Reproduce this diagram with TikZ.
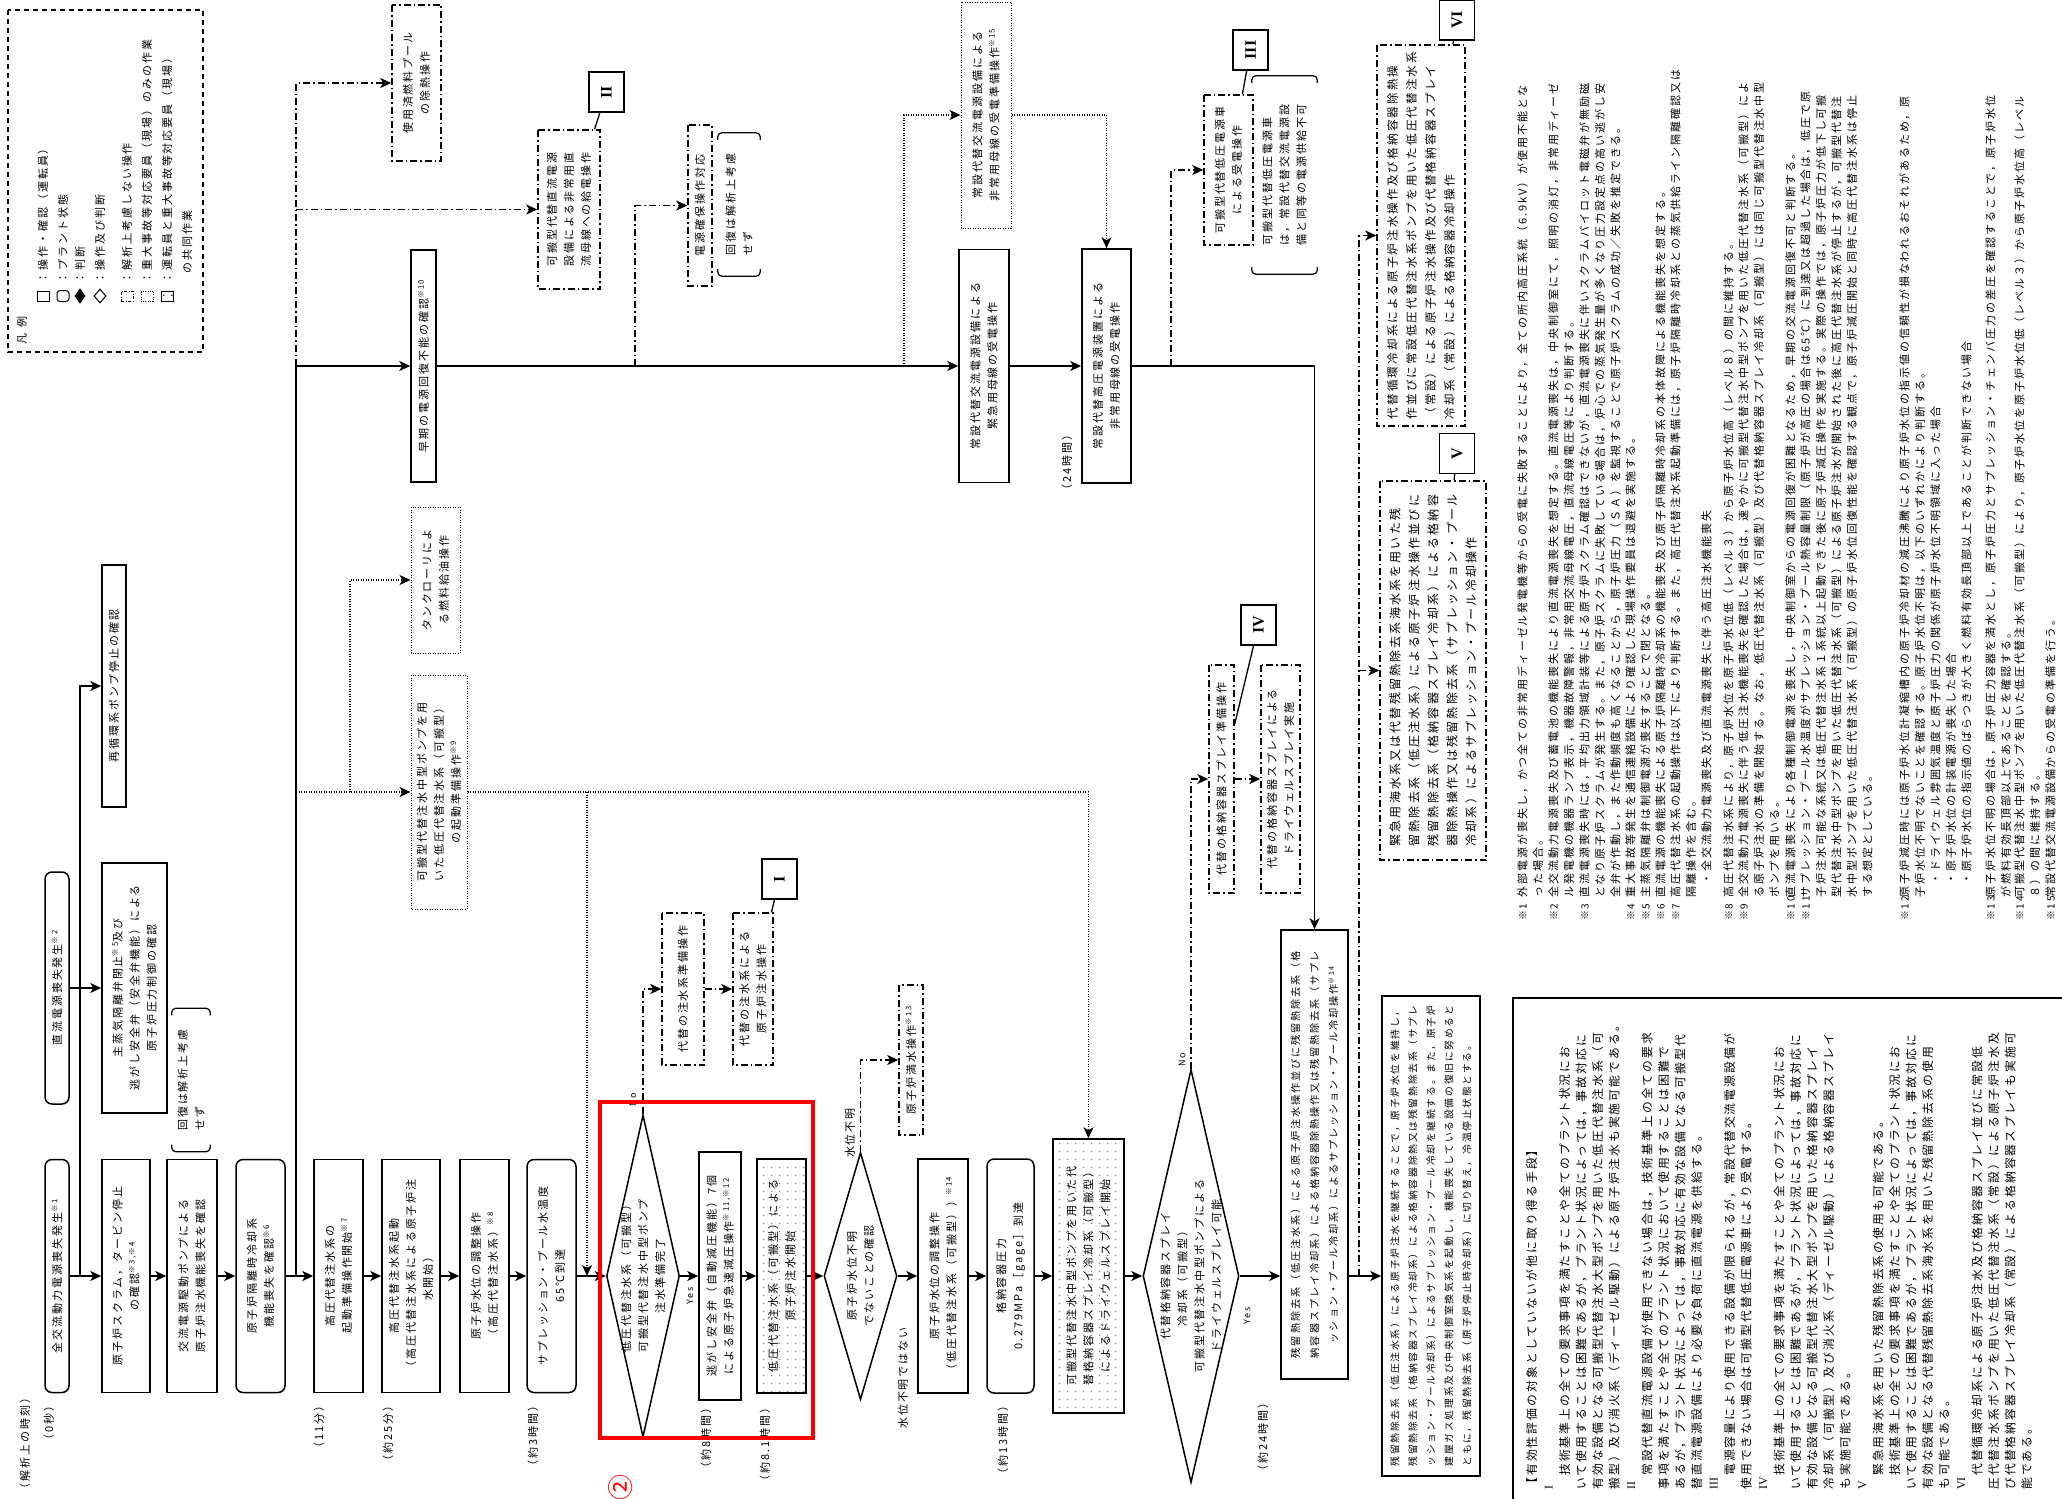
\documentclass[tikz,border=0pt]{standalone}
\usepackage{fontspec}
\setmainfont{Noto Sans CJK JP}
\newfontfamily\jpfont{Noto Sans CJK JP}[LetterSpace=18]
\newfontfamily\numfamily{Liberation Serif}
\usetikzlibrary{arrows.meta}
\usetikzlibrary{shapes.geometric}
\usetikzlibrary{patterns}

\pgfdeclarepatternformonly{sparsedots}{\pgfqpoint{0pt}{0pt}}{\pgfqpoint{8pt}{8pt}}{\pgfqpoint{8pt}{8pt}}{%
  \pgfpathcircle{\pgfqpoint{4pt}{4pt}}{0.8pt}\pgfusepath{fill}}

\newcommand{\flowfont}{\fontsize{11}{17}\jpfont}
\newcommand{\notefont}{\fontsize{11}{15.5}\jpfont}
\newcommand{\markfont}{\fontsize{10}{15.5}\selectfont}
\newcommand{\panelfont}{\fontsize{11.8}{16.5}\jpfont}
\newcommand{\numfont}{\fontsize{16}{16}\numfamily\bfseries}
\newcommand{\nt}[1]{\textsuperscript{※#1}}
\newcommand{\brackets}[1]{%
  \draw[line width=1.2pt, rounded corners=4pt] ([yshift=-7pt]#1.north east) -- (#1.north east) -- (#1.south east) -- ([yshift=-7pt]#1.south east);
  \draw[line width=1.2pt, rounded corners=4pt] ([yshift=7pt]#1.north west) -- (#1.north west) -- (#1.south west) -- ([yshift=7pt]#1.south west);}

\tikzset{
  flowbox/.style={draw, rectangle, rotate=90, line width=1.5pt, inner sep=0pt, align=center, font=\flowfont},
  statebox/.style={flowbox, rounded corners=7pt},
  skipbox/.style={flowbox, dash pattern=on 7pt off 3pt on 1.5pt off 3pt},
  fieldbox/.style={flowbox, line width=1pt, dash pattern=on 1pt off 1.5pt},
  jointbox/.style={flowbox, pattern=sparsedots, pattern color=gray},
  judgebox/.style={draw, diamond, rotate=90, line width=1.5pt, inner sep=0pt},
  words/.style={rotate=90, align=center, inner sep=0pt, font=\flowfont},
  tag/.style={rotate=90, inner sep=0pt, font=\flowfont},
  bracketed/.style={rotate=90, inner sep=0pt, align=left, font=\flowfont},
  notecell/.style={rotate=90, anchor=north west, inner sep=0pt, font=\notefont},
  numbox/.style={draw, rectangle, rotate=90, line width=1.4pt, minimum width=40pt, minimum height=35pt, inner sep=0pt, font=\numfont},
  arrowline/.style={line width=1.8pt, -{Stealth[length=11pt,width=10pt,inset=3pt]}},
  skipline/.style={arrowline, dash pattern=on 7pt off 3pt on 1.5pt off 3pt},
  fieldline/.style={line width=1.1pt, dash pattern=on 1pt off 1.5pt, -{Stealth[length=11pt,width=10pt,inset=3pt]}},
}

\begin{document}
\begin{tikzpicture}[x=1pt, y=-1pt]
\useasboundingbox (0,0) rectangle (2062,1499);

% legend
\draw[line width=1.3pt, dash pattern=on 5pt off 4pt] (8,10) rectangle (203,352);
\node[tag] (lgtitle) at (22,330) {凡\hspace{6pt}例};
\node[draw, line width=1pt, minimum width=12pt, minimum height=10pt, inner sep=0pt] (lgsym1) at (43,296) {};
\node[draw, line width=1pt, rounded corners=3pt, minimum width=12pt, minimum height=11pt, inner sep=0pt] (lgsym2) at (63,296) {};
\node[draw, fill=black, diamond, line width=1pt, minimum width=10pt, minimum height=14pt, inner sep=0pt] (lgsym3) at (80,296) {};
\node[draw, diamond, line width=1pt, minimum width=12pt, minimum height=14pt, inner sep=0pt] (lgsym4) at (100,296) {};
\node[draw, line width=1pt, dash pattern=on 3pt off 1.5pt on 1pt off 1.5pt, minimum width=12pt, minimum height=10pt, inner sep=0pt] (lgsym5) at (127,296) {};
\node[draw, line width=0.8pt, dash pattern=on 1pt off 1.2pt, minimum width=12pt, minimum height=10pt, inner sep=0pt] (lgsym6) at (147,296) {};
\node[draw, line width=1pt, pattern=sparsedots, minimum width=12pt, minimum height=10pt, inner sep=0pt] (lgsym7) at (167,296) {};
\node[tag, anchor=west] (lgtext1) at (43,284) {：操作・確認（運転員）};
\node[tag, anchor=west] (lgtext2) at (63,284) {：プラント状態};
\node[tag, anchor=west] (lgtext3) at (80,284) {：判断};
\node[tag, anchor=west] (lgtext4) at (100,284) {：操作及び判断};
\node[tag, anchor=west] (lgtext5) at (127,284) {：解析上考慮しない操作};
\node[tag, anchor=west] (lgtext6) at (147,284) {：重大事故等対応要員（現場）のみの作業};
\node[tag, anchor=west, align=left, font={\fontsize{11}{20}\jpfont}] (lgtext7) at (177,284) {：運転員と重大事故等対応要員（現場）\\\hspace{10pt}の共同作業};

% main sequence
\node[statebox, minimum width=233pt, minimum height=24pt] (allac) at (57,1276) {全交流動力電源喪失発生\nt{1}};
\node[flowbox, minimum width=233pt, minimum height=48pt] (scram) at (126,1276) {原子炉スクラム，タービン停止\\の確認\nt{3,※4}};
\node[flowbox, minimum width=233pt, minimum height=50pt] (acpump) at (192,1276) {交流電源駆動ポンプによる\\原子炉注水機能喪失を確認};
\node[statebox, minimum width=233pt, minimum height=49pt] (ricloss) at (260.5,1276) {原子炉隔離時冷却系\\機能喪失を確認\nt{6}};
\node[flowbox, minimum width=233pt, minimum height=49pt] (hpprep) at (338.5,1276) {高圧代替注水系の\\起動準備操作開始\nt{7}};
\node[flowbox, minimum width=233pt, minimum height=58pt] (hpstart) at (411,1276) {高圧代替注水系起動\\（高圧代替注水系による原子炉注\\水開始）};
\node[flowbox, minimum width=233pt, minimum height=49pt] (hplevel) at (484.5,1276) {原子炉水位の調整操作\\（高圧代替注水系）\nt{8}};
\node[statebox, minimum width=233pt, minimum height=49pt] (sp65) at (551.5,1276) {サプレッション・プール水温度\\65℃到達};
\node[judgebox, minimum width=322pt, minimum height=73pt] (lpready) at (643,1276) {};
\node[words] (lpreadytext) at (lpready) {低圧代替注水系（可搬型）\\可搬型代替注水中型ポンプ\\注水準備完了};
\node[flowbox, minimum width=248pt, minimum height=42pt] (srv) at (720,1276) {逃がし安全弁（自動減圧機能）7個\\による原子炉急速減圧操作\nt{11,※12}};
\node[jointbox, minimum width=234pt, minimum height=49pt] (lpinj) at (781.5,1276) {低圧代替注水系（可搬型）による\\原子炉注水開始};
\node[judgebox, minimum width=247pt, minimum height=73pt] (lvlchk) at (860.5,1276) {};
\node[words] (lvlchktext) at (lvlchk) {原子炉水位不明\\でないことの確認};
\node[flowbox, minimum width=234pt, minimum height=50pt] (lplevel) at (943,1276) {原子炉水位の調整操作\\（低圧代替注水系（可搬型））\nt{14}};
\node[statebox, minimum width=234pt, minimum height=47pt] (pcv) at (1010.5,1276) {格納容器圧力\\0.279MPa［gage］到達};
\node[jointbox, minimum width=274pt, minimum height=71pt] (dwspray) at (1088.5,1276) {可搬型代替注水中型ポンプを用いた代\\替格納容器スプレイ冷却系（可搬型）\\によるドライウェルスプレイ開始};
\node[judgebox, minimum width=413pt, minimum height=96pt] (spraychk) at (1191,1276) {};
\node[words] (spraychktext) at (spraychk) {代替格納容器スプレイ\\冷却系（可搬型）\\可搬型代替注水中型ポンプによる\\ドライウェルスプレイ可能};
\node[flowbox, minimum width=449pt, minimum height=67pt, font={\fontsize{10.2}{19}\jpfont}] (rhrop) at (1314.5,1154.5) {残留熱除去系（低圧注水系）による原子炉注水操作並びに残留熱除去系（格\\納容器スプレイ冷却系）による格納容器除熱操作又は残留熱除去系（サプレ\\ッション・プール冷却系）によるサプレッション・プール冷却操作\nt{14}};
\node[flowbox, minimum width=480pt, minimum height=98pt, align=left, font={\fontsize{9.8}{18}\jpfont}] (rhrkeep) at (1431,1236) {残留熱除去系（低圧注水系）による原子炉注水を継続することで，原子炉水位を維持し，\\残留熱除去系（格納容器スプレイ冷却系）による格納容器除熱又は残留熱除去系（サプレ\\ッション・プール冷却系）によるサプレッション・プール冷却を継続する。また，原子炉\\建屋ガス処理系及び中央制御室換気系を起動し，機能喪失している設備の復旧に努めると\\ともに，残留熱除去系（原子炉停止時冷却系）に切り替え，冷温停止状態とする。};

% left branch
\node[statebox, minimum width=232pt, minimum height=24pt] (dcloss) at (57,988) {直流電源喪失発生\nt{2}};
\node[flowbox, minimum width=242pt, minimum height=24pt] (recirc) at (114,686) {再循環系ポンプ停止の確認};
\node[flowbox, minimum width=250pt, minimum height=65pt] (msiv) at (134.5,988) {主蒸気隔離弁閉止\nt{5}及び\\逃がし安全弁（安全弁機能）による\\原子炉圧力制御の確認};
\node[bracketed, minimum width=143pt, minimum height=38pt] (norecover) at (191,1080) {回復は解析上考慮\\せず};

% upper branches
\node[skipbox, minimum width=156pt, minimum height=49pt] (sfpcool) at (416.5,83) {使用済燃料プール\\の除熱操作};
\node[skipbox, minimum width=159pt, minimum height=62pt] (dcsupply) at (569,209.5) {可搬型代替直流電源\\設備による非常用直\\流母線への給電操作};
\node[numbox] (numII) at (606.5,92) {II};
\node[flowbox, minimum width=232pt, minimum height=25pt] (early) at (423.5,366) {早期の電源回復不能の確認\nt{10}};
\node[skipbox, minimum width=161pt, minimum height=24pt] (pwrwork) at (700,205.5) {電源確保操作対応};
\node[bracketed, minimum width=143pt, minimum height=42pt] (norecover2) at (739,204.5) {回復は解析上考慮\\せず};
\node[fieldbox, minimum width=146pt, minimum height=49pt] (lorry) at (435.5,580) {タンクローリによ\\る燃料給油操作};
\node[fieldbox, minimum width=234pt, minimum height=56pt] (lpprep) at (439,792) {可搬型代替注水中型ポンプを用\\いた低圧代替注水系（可搬型）\\の起動準備操作\nt{9}};
\node[fieldbox, minimum width=226pt, minimum height=50pt] (acprep) at (986,115) {常設代替交流電源設備による\\非常用母線の受電準備操作\nt{15}};
\node[flowbox, minimum width=233pt, minimum height=50pt] (acbus) at (984,366) {常設代替交流電源設備による\\緊急用母線の受電操作};
\node[flowbox, minimum width=234pt, minimum height=49pt] (hvbus) at (1106.5,366) {常設代替高圧電源装置による\\非常用母線の受電操作};
\node[skipbox, minimum width=150pt, minimum height=49pt] (lvcar) at (1228.5,170) {可搬型代替低圧電源車\\による受電操作};
\node[numbox] (numIII) at (1250.5,50) {III};
\node[bracketed, minimum width=198pt, minimum height=65pt] (nolvcar) at (1284.5,175) {可搬型代替低圧電源車\\は，常設代替交流電源設\\備と同等の電源供給不可};

% side operations
\node[skipbox, minimum width=152pt, minimum height=42pt] (altprep) at (683,989) {代替の注水系準備操作};
\node[skipbox, minimum width=152pt, minimum height=40pt] (altinj) at (753,989) {代替の注水系による\\原子炉注水操作};
\node[numbox] (numI) at (779.5,879) {I};
\node[skipbox, minimum width=150pt, minimum height=24pt] (fillup) at (911,1060) {原子炉満水操作\nt{13}};
\node[skipbox, minimum width=228pt, minimum height=25pt] (csprep) at (1221.5,779) {代替の格納容器スプレイ準備操作};
\node[skipbox, minimum width=228pt, minimum height=39pt] (csdw) at (1280.5,779) {代替の格納容器スプレイによる\\ドライウェルスプレイ実施};
\node[numbox] (numIV) at (1258.5,625) {IV};
\node[skipbox, minimum width=379pt, minimum height=106pt, align=left, font={\fontsize{12}{19}\jpfont}] (seawater) at (1433,670.5) {緊急用海水系又は代替残留熱除去系海水系を用いた残\\留熱除去系（低圧注水系）による原子炉注水操作並びに\\残留熱除去系（格納容器スプレイ冷却系）による格納容\\器除熱操作又は残留熱除去系（サプレッション・プール\\冷却系）によるサプレッション・プール冷却操作};
\node[numbox] (numV) at (1457,453.5) {V};
\node[skipbox, minimum width=381pt, minimum height=88pt, align=left, font={\fontsize{11.6}{19}\jpfont}] (altcool) at (1421,235.5) {代替循環冷却系による原子炉注水操作及び格納容器除熱操\\作並びに常設低圧代替注水系ポンプを用いた低圧代替注水系\\（常設）による原子炉注水操作及び代替格納容器スプレイ\\冷却系（常設）による格納容器冷却操作};
\node[numbox] (numVI) at (1457,20) {VI};

% times and answers
\node[tag, anchor=east] (timehead) at (25,1392) {（解析上の時刻）};
\node[tag, anchor=east] (time0) at (49,1400) {（0秒）};
\node[tag, anchor=east] (time11) at (319,1400) {（11分）};
\node[tag, anchor=east] (time25) at (388,1400) {（約25分）};
\node[tag, anchor=east] (time3h) at (533,1400) {（約3時間）};
\node[tag, anchor=east] (time8h) at (706,1402) {（約8時間）};
\node[tag, anchor=east] (time81h) at (765,1402) {（約8.1時間）};
\node[tag, anchor=east] (time13h) at (1003,1400) {（約13時間）};
\node[tag, anchor=east] (time24h) at (1263,1397) {（約24時間）};
\node[tag, anchor=east] (time24) at (1067,429) {（24時間）};
\node[tag, font={\fontsize{9}{9}\jpfont}] (lpno) at (633,1100) {No};
\node[tag, font={\fontsize{9}{9}\jpfont}] (lpyes) at (690,1296) {Yes};
\node[tag, font={\fontsize{9}{9}\jpfont}] (sprayno) at (1182,1060) {No};
\node[tag, font={\fontsize{9}{9}\jpfont}] (sprayyes) at (1247,1316) {Yes};
\node[tag] (lvlunknown) at (850,1133) {水位不明};
\node[tag] (lvlknown) at (903,1378) {水位不明ではない};

% connectors
\coordinate (acjoin) at (80,1276);
\coordinate (trunk) at (296,1276);
\coordinate (trunktop) at (296,366);
\coordinate (dcfork) at (296,209.5);
\coordinate (pumpfork) at (296,792);
\coordinate (lorryfork) at (350,792);
\coordinate (injfork) at (587,792);
\coordinate (injend) at (587,1276);
\coordinate (workfork) at (635,366);
\coordinate (prepfork) at (904,366);
\coordinate (carfork) at (1171,366);
\coordinate (rhrfork) at (1359,1276);
\coordinate (seafork) at (1359,670.5);

\draw[arrowline] (allac) -- (scram);
\draw[arrowline] (scram) -- (acpump);
\draw[arrowline] (acpump) -- (ricloss);
\draw[arrowline] (ricloss) -- (hpprep);
\draw[arrowline] (hpprep) -- (hpstart);
\draw[arrowline] (hpstart) -- (hplevel);
\draw[arrowline] (hplevel) -- (sp65);
\draw[arrowline] (sp65) -- (lpready);
\draw[arrowline] (lpready) -- (srv);
\draw[arrowline] (srv) -- (lpinj);
\draw[arrowline] (lpinj) -- (lvlchk);
\draw[arrowline] (lvlchk) -- (lplevel);
\draw[arrowline] (lplevel) -- (pcv);
\draw[arrowline] (pcv) -- (dwspray);
\draw[arrowline] (dwspray) -- (spraychk);
\draw[arrowline] (spraychk) -- (spraychk -| rhrop.north);
\draw[arrowline] (rhrop.south |- rhrfork) -- (rhrkeep.north |- rhrfork);

\draw[arrowline] (acjoin) |- (recirc);
\draw[arrowline] (dcloss) -- (msiv);
\draw[arrowline] (trunk) |- (early);
\draw[skipline] (trunktop) |- (sfpcool);
\draw[skipline] (dcfork) -- (dcsupply);
\draw[arrowline] (early) -- (acbus);
\draw[skipline] (workfork) |- (pwrwork);
\draw[fieldline] (prepfork) |- (acprep);
\draw[fieldline] (acprep) -| (hvbus);
\draw[arrowline] (acbus) -- (hvbus);
\draw[arrowline] (hvbus) -| (rhrop);
\draw[skipline] (carfork) |- (lvcar);
\draw[skipline] (rhrfork) |- (altcool);
\draw[skipline] (seafork) -- (seawater);
\draw[fieldline] (pumpfork) -- (lpprep);
\draw[fieldline] (lpprep) -| (dwspray);
\draw[fieldline] (lorryfork) |- (lorry);
\draw[fieldline] (injfork) -- (injend);
\draw[skipline] (lpready) |- (altprep);
\draw[skipline] (altprep) -- (altinj);
\draw[skipline] (lvlchk) |- (fillup);
\draw[skipline] (spraychk) |- (csprep);
\draw[skipline] (csprep) -- (csdw);

\draw[line width=1.3pt] (numI) -- (altinj);
\draw[line width=1.3pt] (numII) -- (dcsupply);
\draw[line width=1.3pt] (numIII) -- (lvcar);
\draw[line width=1.3pt] (numIV) -- (csprep);
\draw[line width=1.3pt] (numV) -- (seawater);
\draw[line width=1.3pt] (numVI) -- (altcool);

\brackets{norecover}
\brackets{norecover2}
\brackets{nolvcar}

% notes
\node[notecell] (note1) at (1515.5,921) {\begin{tabular}{@{}p{23pt}@{}l@{}}
{\markfont ※1} & 外部電源が喪失し，かつ全ての非常用ディーゼル発電機等からの受電に失敗することにより，全ての所内高圧系統（6.9kV）が使用不能とな\\
 & った場合。\end{tabular}};
\node[notecell] (note2) at (1546.5,921) {\begin{tabular}{@{}p{23pt}@{}l@{}}
{\markfont ※2} & 全交流動力電源喪失及び蓄電池の機能喪失により直流電源喪失を想定する。直流電源喪失は，中央制御室にて，照明の消灯，非常用ディーゼ\\
 & ル発電機の機器ランプ表示，機器故障警報，非常用交流母線電圧，直流母線電圧等により判断する。\end{tabular}};
\node[notecell] (note3) at (1577.5,921) {\begin{tabular}{@{}p{23pt}@{}l@{}}
{\markfont ※3} & 直流電源喪失時には，平均出力領域計装等による原子炉スクラム確認はできないが，直流電源喪失に伴いスクラムパイロット電磁弁が無励磁\\
 & となり原子炉スクラムが発生する。また，原子炉スクラムに失敗している場合は，炉心での蒸気発生量が多くなり圧力設定点の高い逃がし安\\
 & 全弁が作動し，また作動頻度も高くなることから，原子炉圧力（ＳＡ）を監視することで原子炉スクラムの成功／失敗を推定できる。\end{tabular}};
\node[notecell] (note4) at (1623.5,921) {\begin{tabular}{@{}p{23pt}@{}l@{}}
{\markfont ※4} & 重大事故等発生を通信連絡設備により確認した現場操作要員は退避を実施する。\end{tabular}};
\node[notecell] (note5) at (1638.5,921) {\begin{tabular}{@{}p{23pt}@{}l@{}}
{\markfont ※5} & 主蒸気隔離弁は制御電源が喪失することで閉となる。\end{tabular}};
\node[notecell] (note6) at (1653.5,921) {\begin{tabular}{@{}p{23pt}@{}l@{}}
{\markfont ※6} & 直流電源の機能喪失による原子炉隔離時冷却系の機能喪失及び原子炉隔離時冷却系の本体故障による機能喪失を想定する。\end{tabular}};
\node[notecell] (note7) at (1668.5,921) {\begin{tabular}{@{}p{23pt}@{}l@{}}
{\markfont ※7} & 高圧代替注水系の起動操作は以下により判断する。また，高圧代替注水系起動準備には，原子炉隔離時冷却系との蒸気供給ライン隔離確認又は\\
 & 隔離操作を含む。\\
 & 　・全交流動力電源喪失及び直流電源喪失に伴う高圧注水機能喪失\end{tabular}};
\node[notecell] (note8) at (1721.5,921) {\begin{tabular}{@{}p{23pt}@{}l@{}}
{\markfont ※8} & 高圧代替注水系により，原子炉水位を原子炉水位低（レベル３）から原子炉水位高（レベル８）の間に維持する。\end{tabular}};
\node[notecell] (note9) at (1736.5,921) {\begin{tabular}{@{}p{23pt}@{}l@{}}
{\markfont ※9} & 全交流動力電源喪失に伴う低圧注水機能喪失を確認した場合は，速やかに可搬型代替注水中型ポンプを用いた低圧代替注水系（可搬型）によ\\
 & る原子炉注水の準備を開始する。なお，低圧代替注水系（可搬型）及び代替格納容器スプレイ冷却系（可搬型）には同じ可搬型代替注水中型\\
 & ポンプを用いる。\end{tabular}};
\node[notecell] (note10) at (1783.5,921) {\begin{tabular}{@{}p{23pt}@{}l@{}}
{\markfont ※10} & 直流電源喪失により各種制御電源を喪失し，中央制御室からの電源回復が困難となるため，早期の交流電源回復不可と判断する。\end{tabular}};
\node[notecell] (note11) at (1798.5,921) {\begin{tabular}{@{}p{23pt}@{}l@{}}
{\markfont ※11} & サプレッション・プール水温度がサプレッション・プール熱容量制限（原子炉が高圧の場合は65℃）に到達又は超過した場合は，低圧で原\\
 & 子炉注水可能な系統又は低圧代替注水系１系統以上起動できた後に原子炉減圧操作を実施する。実際の操作では，原子炉圧力が低下し可搬\\
 & 型代替注水中型ポンプを用いた低圧代替注水系（可搬型）による原子炉注水が開始された後に高圧代替注水系が停止するが，可搬型代替注\\
 & 水中型ポンプを用いた低圧代替注水系（可搬型）の原子炉水位回復性能を確認する観点で，原子炉減圧開始と同時に高圧代替注水系は停止\\
 & する想定としている。\end{tabular}};
\node[notecell] (note12) at (1897.5,921) {\begin{tabular}{@{}p{23pt}@{}l@{}}
{\markfont ※12} & 原子炉減圧時には原子炉水位計凝縮槽内の原子炉冷却材の減圧沸騰により原子炉水位の指示値の信頼性が損なわれるおそれがあるため，原\\
 & 子炉水位不明でないことを確認する。原子炉水位不明は，以下のいずれかにより判断する。\\
 & 　・ドライウェル雰囲気温度と原子炉圧力の関係が原子炉水位不明領域に入った場合\\
 & 　・原子炉水位の計装電源が喪失した場合\\
 & 　・原子炉水位の指示値のばらつきが大きく燃料有効長頂部以上であることが判断できない場合\end{tabular}};
\node[notecell] (note13) at (1983.5,921) {\begin{tabular}{@{}p{23pt}@{}l@{}}
{\markfont ※13} & 原子炉水位不明の場合は，原子炉圧力容器を満水とし，原子炉圧力とサプレッション・チェンバ圧力の差圧を確認することで，原子炉水位\\
 & が燃料有効長頂部以上であることを確認する。\end{tabular}};
\node[notecell] (note14) at (2012.5,921) {\begin{tabular}{@{}p{23pt}@{}l@{}}
{\markfont ※14} & 可搬型代替注水中型ポンプを用いた低圧代替注水系（可搬型）により，原子炉水位を原子炉水位低（レベル３）から原子炉水位高（レベル\\
 & ８）の間に維持する。\end{tabular}};
\node[notecell] (note15) at (2043.5,921) {\begin{tabular}{@{}p{23pt}@{}l@{}}
{\markfont ※15} & 常設代替交流電源設備からの受電の準備を行う。\end{tabular}};

% other means
\draw[line width=1.5pt] (1513,998) rectangle (2090,1520);
\node[rotate=90, anchor=north west, inner sep=0pt, align=left, font=\panelfont] (othermeans) at (1526,1490) {%
【有効性評価の対象としていないが他に取り得る手段】\\
{\numfamily I}\\
　技術基準上の全ての要求事項を満たすことや全てのプラント状況にお\\
いて使用することは困難であるが，プラント状況によっては，事故対応に\\
有効な設備となる可搬型代替注水大型ポンプを用いた低圧代替注水系（可\\
搬型）及び消火系（ディーゼル駆動）による原子炉注水も実施可能である。\\
{\numfamily II}\\
　常設代替直流電源設備が使用できない場合は，技術基準上の全ての要求\\
事項を満たすことや全てのプラント状況において使用することは困難で\\
あるが，プラント状況によっては，事故対応に有効な設備となる可搬型代\\
替直流電源設備により必要な負荷に直流電源を供給する。\\
{\numfamily III}\\
　電源容量により使用できる設備が限られるが，常設代替交流電源設備が\\
使用できない場合は可搬型代替低圧電源車により受電する。\\
{\numfamily IV}\\
　技術基準上の全ての要求事項を満たすことや全てのプラント状況にお\\
いて使用することは困難であるが，プラント状況によっては，事故対応に\\
有効な設備となる可搬型代替注水大型ポンプを用いた格納容器スプレイ\\
冷却系（可搬型）及び消火系（ディーゼル駆動）による格納容器スプレイ\\
も実施可能である。\\
{\numfamily V}\\
　緊急用海水系を用いた残留熱除去系の使用も可能である。\\
　技術基準上の全ての要求事項を満たすことや全てのプラント状況にお\\
いて使用することは困難であるが，プラント状況によっては，事故対応に\\
有効な設備となる代替残留熱除去系海水系を用いた残留熱除去系の使用\\
も可能である。\\
{\numfamily VI}\\
　代替循環冷却系による原子炉注水及び格納容器スプレイ並びに常設低\\
圧代替注水系ポンプを用いた低圧代替注水系（常設）による原子炉注水及\\
び代替格納容器スプレイ冷却系（常設）による格納容器スプレイも実施可\\
能である。};

% highlighted step
\draw[red, line width=4.5pt] (600,1102) rectangle (813,1438);
\node[rotate=90, text=red, inner sep=0pt, font={\fontsize{26}{26}\selectfont}] (stepmark) at (621,1487) {②};
\end{tikzpicture}
\end{document}
